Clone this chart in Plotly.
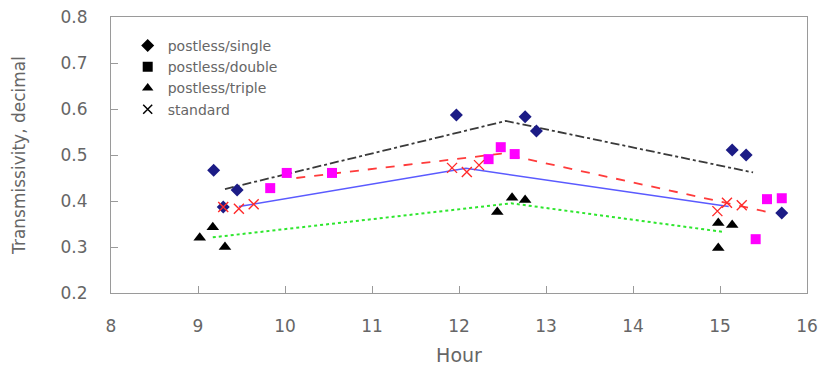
import plotly.graph_objects as go

# Measured transmissivity by hour for each roof configuration
hours_single = [9.18, 9.29, 9.45, 11.97, 12.76, 12.89, 15.14, 15.30, 15.71]
trans_single = [0.467, 0.387, 0.424, 0.587, 0.583, 0.552, 0.511, 0.500, 0.374]

hours_double = [9.83, 10.02, 10.54, 12.34, 12.48, 12.64, 15.41, 15.54, 15.71]
trans_double = [0.428, 0.461, 0.461, 0.491, 0.517, 0.502, 0.317, 0.404, 0.406]

hours_triple = [9.02, 9.17, 9.31, 12.44, 12.61, 12.76, 14.98, 14.98, 15.14]
trans_triple = [0.320, 0.343, 0.300, 0.376, 0.407, 0.402, 0.352, 0.298, 0.348]

hours_standard = [9.29, 9.47, 9.64, 11.92, 12.09, 12.23, 14.97, 15.08, 15.25]
trans_standard = [0.387, 0.383, 0.393, 0.472, 0.463, 0.478, 0.378, 0.396, 0.391]

# Trend lines through the morning / noon / afternoon group centres
trend_single_x = [9.31, 12.54, 15.38]
trend_single_y = [0.426, 0.574, 0.462]
trend_double_x = [10.13, 12.49, 15.55]
trend_double_y = [0.450, 0.503, 0.376]
trend_standard_x = [9.47, 12.08, 15.10]
trend_standard_y = [0.388, 0.471, 0.388]
trend_triple_x = [9.17, 12.60, 15.03]
trend_triple_y = [0.321, 0.395, 0.333]

series_names = ["postless/single", "postless/double", "postless/triple", "standard"]
x_ticks = [8, 9, 10, 11, 12, 13, 14, 15, 16]
y_ticks = [0.2, 0.3, 0.4, 0.5, 0.6, 0.7, 0.8]

FONT = "DejaVu Sans"
TEXT_GRAY = "#666666"
AXIS_GRAY = "#9a9a9a"

fig = go.Figure()

# trend lines (drawn underneath the markers)
fig.add_trace(go.Scatter(x=trend_triple_x, y=trend_triple_y, mode="lines",
                         line=dict(color="#2ee62e", width=2, dash="dot"),
                         showlegend=False, hoverinfo="skip"))
fig.add_trace(go.Scatter(x=trend_standard_x, y=trend_standard_y, mode="lines",
                         line=dict(color="#5a5aff", width=1.5),
                         showlegend=False, hoverinfo="skip"))
fig.add_trace(go.Scatter(x=trend_double_x, y=trend_double_y, mode="lines",
                         line=dict(color="#ff3b3b", width=1.8, dash="dash"),
                         showlegend=False, hoverinfo="skip"))
fig.add_trace(go.Scatter(x=trend_single_x, y=trend_single_y, mode="lines",
                         line=dict(color="#3a3a3a", width=1.8, dash="dashdot"),
                         showlegend=False, hoverinfo="skip"))

# measured points
fig.add_trace(go.Scatter(x=hours_single, y=trans_single, mode="markers",
                         marker=dict(symbol="diamond", size=10, color="#1c1c86"),
                         showlegend=False))
fig.add_trace(go.Scatter(x=hours_double, y=trans_double, mode="markers",
                         marker=dict(symbol="square", size=10, color="#ff00ff"),
                         showlegend=False))
fig.add_trace(go.Scatter(x=hours_triple, y=trans_triple, mode="markers",
                         marker=dict(symbol="triangle-up", size=11, color="#000000"),
                         showlegend=False))
fig.add_trace(go.Scatter(x=hours_standard, y=trans_standard, mode="markers",
                         marker=dict(symbol="x-thin", size=10,
                                     line=dict(color="#ff2a2a", width=1.4)),
                         showlegend=False))

# legend keys in black
legend_symbols = ["diamond", "square", "triangle-up", "x-thin"]
for name, sym in zip(series_names, legend_symbols):
    mk = dict(symbol=sym, size=10, color="#000000")
    if sym == "x-thin":
        mk["size"] = 9
        mk["line"] = dict(color="#000000", width=1.5)
    fig.add_trace(go.Scatter(x=[None], y=[None], mode="markers", name=name, marker=mk))

axis_common = dict(
    showline=True, linecolor=AXIS_GRAY, linewidth=1, mirror=True,
    showgrid=False, zeroline=False, ticks="inside", ticklen=7,
    tickcolor=AXIS_GRAY, tickfont=dict(family=FONT, size=17, color=TEXT_GRAY),
    automargin=False,
)

fig.update_layout(
    width=824, height=372,
    margin=dict(l=111, r=17, t=17, b=79),
    paper_bgcolor="white", plot_bgcolor="white",
    xaxis=dict(range=[8, 16], tickvals=x_ticks, ticktext=[str(v) for v in x_ticks],
               ticklabelstandoff=18,
               title=dict(text="Hour", font=dict(family=FONT, size=19, color=TEXT_GRAY),
                          standoff=13),
               **axis_common),
    yaxis=dict(range=[0.2, 0.8], tickvals=y_ticks, ticktext=[f"{v:.1f}" for v in y_ticks],
               ticklabelstandoff=19,
               title=dict(text="Transmissivity, decimal",
                          font=dict(family=FONT, size=17, color=TEXT_GRAY), standoff=30),
               **axis_common),
    legend=dict(x=0.024, y=0.953, xanchor="left", yanchor="top",
                bgcolor="rgba(0,0,0,0)", font=dict(family=FONT, size=14, color=TEXT_GRAY),
                itemclick=False, tracegroupgap=0),
    showlegend=True,
)

fig.write_html("out.html")
